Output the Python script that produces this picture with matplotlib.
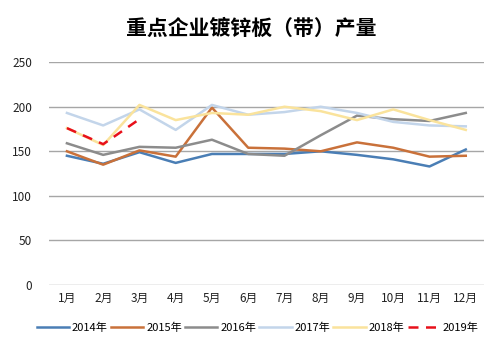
import numpy as np
import matplotlib
matplotlib.use('Agg')
import matplotlib.pyplot as plt

plt.rcParams['font.family'] = ['Noto Sans CJK SC', 'DejaVu Sans']

months = ['1月', '2月', '3月', '4月', '5月', '6月', '7月', '8月', '9月', '10月', '11月', '12月']
y2014 = [145, 136, 149, 137, 147, 147, 147, 150, 146, 141, 133, 152]
y2015 = [150, 135, 151, 144, 199, 154, 153, 150, 160, 154, 144, 145]
y2016 = [159, 146, 155, 154, 163, 147, 145, 168, 190, 186, 184, 193]
y2017 = [193, 179, 197, 174, 202, 191, 194, 200, 193, 183, 179, 178]
y2018 = [176, 157, 202, 185, 193, 191, 200, 195, 185, 197, 185, 174]
y2019 = [176, 158, 186]

series = [
    ('2014年', y2014, '#4a7eb5'),
    ('2015年', y2015, '#c9713a'),
    ('2016年', y2016, '#8c8c8c'),
    ('2017年', y2017, '#c3d5ea'),
    ('2018年', y2018, '#fae39c'),
]

fig = plt.figure(figsize=(5.03, 3.55), dpi=100)
ax = fig.add_axes([0.097, 0.197, 0.865, 0.628])

x = np.arange(len(months))
for name, vals, col in series:
    ax.plot(x[:len(vals)], vals, color=col, lw=1.8, label=name)
ax.plot(x[:len(y2019)], y2019, color='#e8101a', lw=1.8, ls=(0, (4, 3)), label='2019年')

ax.set_xlim(-0.5, len(months) - 0.5)
ax.set_ylim(0, 250)
ax.set_yticks([0, 50, 100, 150, 200, 250])
ax.set_xticks(x)
ax.set_xticklabels(months)
ax.yaxis.grid(True, color='#a6a6a6', lw=1)
ax.set_axisbelow(True)
for s in ax.spines.values():
    s.set_visible(False)
ax.tick_params(length=0, labelsize=8.5, colors='#222222')
ax.tick_params(axis='y', pad=12)
ax.tick_params(axis='x', pad=5)

fig.suptitle('重点企业镀锌板（带）产量', fontsize=15, fontweight='bold', y=0.95)
ax.legend(loc='upper center', bbox_to_anchor=(0.48, -0.125), ncol=6, frameon=False,
          fontsize=8, handlelength=2.9, handletextpad=0.25, columnspacing=0.3)

fig.savefig('out.png', dpi=100)
